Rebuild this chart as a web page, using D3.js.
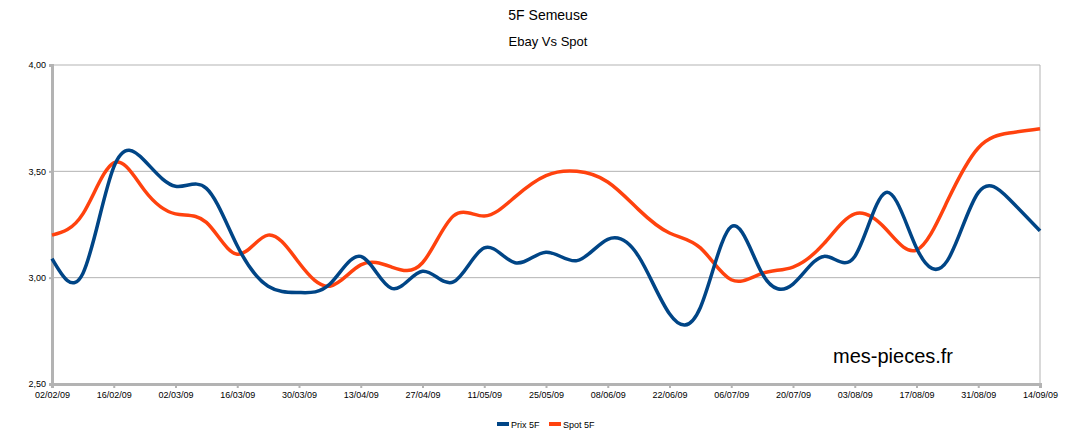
<!DOCTYPE html>
<html><head><meta charset="utf-8">
<script src="https://cdn.jsdelivr.net/npm/d3@7"></script>
<style>body{margin:0;background:#fff;font-family:"Liberation Sans",Arial,sans-serif}</style>
</head><body><svg id="c" width="1071" height="433"></svg>
<script>
const tickLabels = ['02/02/09','16/02/09','02/03/09','16/03/09','30/03/09','13/04/09','27/04/09','11/05/09','25/05/09','08/06/09','22/06/09','06/07/09','20/07/09','03/08/09','17/08/09','31/08/09','14/09/09'];
const prix = [3.09,3.02,3.52,3.55,3.43,3.42,3.15,2.96,2.93,2.97,3.10,2.95,3.03,2.98,3.14,3.07,3.12,3.08,3.18,3.10,2.83,2.86,3.24,3.02,2.97,3.10,3.10,3.40,3.14,3.08,3.40,3.37,3.22];
const spot = [3.20,3.30,3.54,3.41,3.30,3.26,3.11,3.20,3.07,2.96,3.06,3.05,3.07,3.29,3.29,3.38,3.48,3.50,3.45,3.32,3.21,3.14,2.99,3.02,3.05,3.16,3.30,3.23,3.13,3.36,3.61,3.68,3.70];
const yTicks = [2.5,3.0,3.5,4.0];

const svg = d3.select('#c');
const x = d3.scaleLinear().domain([0, prix.length - 1]).range([52, 1040]);
const y = d3.scaleLinear().domain([2.5, 4]).range([384, 65]);
const fmt = d => d.toFixed(2).replace('.', ',');

svg.append('g').selectAll('line').data(yTicks.slice(1)).join('line')
  .attr('x1', 52).attr('x2', 1040).attr('y1', y).attr('y2', y)
  .attr('stroke', '#b3b3b3').attr('stroke-width', 1);
svg.append('line').attr('x1', 1040).attr('x2', 1040).attr('y1', 65).attr('y2', 384)
  .attr('stroke', '#b3b3b3');

const yAxis = svg.append('g').attr('transform', 'translate(52,0)')
  .call(d3.axisLeft(y).tickValues(yTicks).tickFormat(fmt).tickSize(3));
const xAxis = svg.append('g').attr('transform', 'translate(0,384)')
  .call(d3.axisBottom(x).tickValues(d3.range(0, prix.length, 2)).tickFormat((d, i) => tickLabels[i]).tickSize(4));
[yAxis, xAxis].forEach(a => {
  a.select('.domain').attr('stroke', '#b3b3b3').attr('stroke-width', 3);
  a.selectAll('.tick line').attr('stroke', '#b3b3b3').attr('stroke-width', 2);
  a.selectAll('text').attr('font-size', 9).attr('fill', '#000').attr('font-family', 'Liberation Sans, Arial');
});
yAxis.selectAll('text').attr('x', -6);
xAxis.selectAll('text').attr('y', 8);

const line = d3.line().x((d, i) => x(i)).y(d => y(d)).curve(d3.curveNatural);
svg.append('path').attr('d', line(spot)).attr('fill', 'none').attr('stroke', '#ff420e').attr('stroke-width', 3.5);
svg.append('path').attr('d', line(prix)).attr('fill', 'none').attr('stroke', '#004586').attr('stroke-width', 3.5);

svg.append('text').attr('x', 548).attr('y', 20).attr('text-anchor', 'middle').attr('font-size', 14).text('5F Semeuse');
svg.append('text').attr('x', 548).attr('y', 46).attr('text-anchor', 'middle').attr('font-size', 13).text('Ebay Vs Spot');
svg.append('text').attr('x', 833).attr('y', 363).attr('font-size', 20).text('mes-pieces.fr');

const legend = [['Prix 5F', '#004586', 497], ['Spot 5F', '#ff420e', 549]];
legend.forEach(([t, c, lx]) => {
  svg.append('rect').attr('x', lx).attr('y', 422).attr('width', 12).attr('height', 4).attr('fill', c);
  svg.append('text').attr('x', lx + 14).attr('y', 428).attr('font-size', 9).text(t);
});
</script></body></html>
